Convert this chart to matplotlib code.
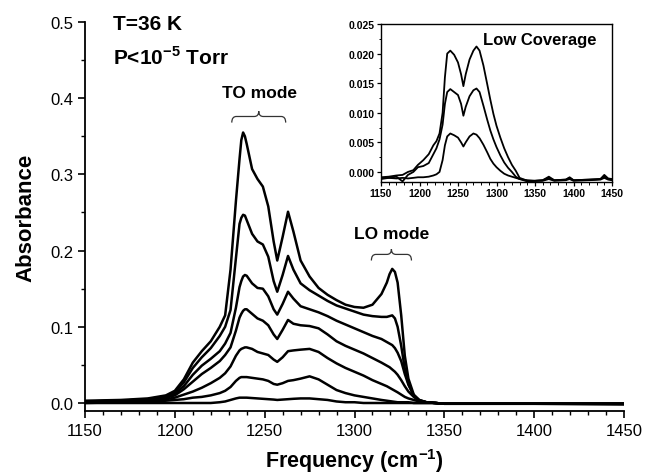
import numpy as np
import matplotlib
matplotlib.use("Agg")
import matplotlib.pyplot as plt
from matplotlib.path import Path
from matplotlib.patches import PathPatch
from matplotlib.ticker import MultipleLocator

plt.rcParams["font.family"] = ["Liberation Sans", "DejaVu Sans"]
plt.rcParams["mathtext.fontset"] = "custom"
plt.rcParams["mathtext.rm"] = "Liberation Sans"
plt.rcParams["mathtext.bf"] = "Liberation Sans:bold"

# ---- main spectra (absorbance vs wavenumber), increasing coverage ----
freq = [1150, 1170, 1185, 1195, 1200, 1205, 1210, 1215, 1220, 1225, 1228, 1231, 1234,
        1236, 1237, 1238, 1239, 1240, 1243, 1246, 1249, 1252, 1255, 1257, 1260, 1263, 1266, 1270,
        1275, 1280, 1285, 1290, 1295, 1300, 1305, 1310, 1315, 1318, 1319.5, 1321, 1322.5, 1324, 1326,
        1328, 1330, 1333, 1336, 1340, 1345, 1350, 1400, 1450]

abs_1 = [0.000, 0.000, 0.000, 0.000, 0.000, 0.000, 0.000, 0.000, 0.000, 0.001, 0.002, 0.004, 0.006,
         0.007, 0.007, 0.007, 0.007, 0.007, 0.0065, 0.006, 0.0055, 0.005, 0.0045, 0.004, 0.0045, 0.005, 0.0055, 0.006,
         0.006, 0.005, 0.004, 0.002, 0.001, 0.001, 0.000, 0.000, 0.000, 0.000, 0.000, 0.000, 0.000, 0.000, 0.000,
         0.000, 0.000, 0.000, 0.000, 0.000, 0.000, -0.001, -0.001, -0.001]
abs_2 = [0.000, 0.001, 0.002, 0.003, 0.004, 0.005, 0.007, 0.008, 0.010, 0.013, 0.016, 0.021, 0.029,
         0.033, 0.034, 0.034, 0.034, 0.034, 0.033, 0.032, 0.031, 0.029, 0.025, 0.024, 0.026, 0.029, 0.030, 0.032,
         0.035, 0.031, 0.024, 0.017, 0.013, 0.010, 0.008, 0.006, 0.004, 0.003, 0.0025, 0.002, 0.0015, 0.001, 0.001,
         0.001, 0.001, 0.000, 0.000, 0.000, 0.000, -0.001, -0.001, -0.001]
abs_3 = [0.001, 0.002, 0.003, 0.005, 0.007, 0.011, 0.015, 0.020, 0.026, 0.033, 0.039, 0.048, 0.062,
         0.069, 0.071, 0.072, 0.073, 0.073, 0.071, 0.067, 0.065, 0.063, 0.057, 0.054, 0.060, 0.068, 0.069, 0.070,
         0.071, 0.067, 0.059, 0.052, 0.046, 0.041, 0.036, 0.030, 0.025, 0.022, 0.020, 0.018, 0.016, 0.014, 0.011,
         0.008, 0.006, 0.004, 0.002, 0.001, 0.000, -0.001, -0.001, -0.001]
abs_4 = [0.001, 0.002, 0.004, 0.007, 0.010, 0.018, 0.028, 0.038, 0.046, 0.055, 0.063, 0.073, 0.095,
         0.112, 0.117, 0.121, 0.123, 0.123, 0.117, 0.111, 0.108, 0.102, 0.090, 0.084, 0.096, 0.109, 0.104, 0.102,
         0.101, 0.098, 0.090, 0.081, 0.075, 0.070, 0.065, 0.059, 0.053, 0.049, 0.047, 0.044, 0.041, 0.037, 0.030,
         0.022, 0.015, 0.008, 0.003, 0.001, 0.000, -0.001, -0.001, -0.001]
abs_5 = [0.002, 0.003, 0.005, 0.008, 0.012, 0.022, 0.037, 0.049, 0.058, 0.068, 0.078, 0.092, 0.125,
         0.152, 0.160, 0.166, 0.168, 0.167, 0.157, 0.151, 0.150, 0.140, 0.123, 0.116, 0.130, 0.146, 0.137, 0.127,
         0.123, 0.119, 0.114, 0.108, 0.103, 0.098, 0.093, 0.088, 0.084, 0.080, 0.078, 0.076, 0.072, 0.066, 0.055,
         0.038, 0.024, 0.010, 0.004, 0.001, 0.000, -0.001, -0.001, -0.001]
abs_6 = [0.002, 0.003, 0.005, 0.009, 0.014, 0.027, 0.046, 0.060, 0.072, 0.088, 0.100, 0.122, 0.190,
         0.235, 0.243, 0.247, 0.246, 0.240, 0.222, 0.212, 0.208, 0.192, 0.160, 0.146, 0.168, 0.193, 0.175, 0.157,
         0.148, 0.141, 0.134, 0.128, 0.124, 0.120, 0.116, 0.114, 0.113, 0.113, 0.114, 0.115, 0.111, 0.100, 0.075,
         0.045, 0.025, 0.009, 0.003, 0.001, 0.000, -0.001, -0.001, -0.001]
abs_7 = [0.003, 0.004, 0.006, 0.010, 0.016, 0.031, 0.053, 0.068, 0.081, 0.100, 0.115, 0.175, 0.265,
         0.320, 0.345, 0.355, 0.350, 0.340, 0.307, 0.294, 0.284, 0.258, 0.212, 0.187, 0.218, 0.251, 0.225, 0.187,
         0.166, 0.151, 0.142, 0.135, 0.129, 0.126, 0.125, 0.129, 0.143, 0.158, 0.169, 0.176, 0.172, 0.158, 0.115,
         0.062, 0.032, 0.011, 0.004, 0.001, 0.000, -0.001, -0.001, -0.002]
spectra = [abs_1, abs_2, abs_3, abs_4, abs_5, abs_6, abs_7]

# ---- inset: low coverage spectra ----
freq_low = [1150, 1160, 1170, 1178, 1185, 1192, 1198, 1205, 1212, 1218, 1222, 1226, 1230, 1233,
            1236, 1240, 1245, 1250, 1254, 1257, 1260, 1265, 1270, 1274, 1278, 1283, 1288, 1292,
            1296, 1300, 1305, 1310, 1315, 1320, 1325, 1330, 1340, 1350, 1360, 1368, 1375, 1390,
            1395, 1400, 1420, 1435, 1440, 1445, 1450]
low_1 = [-0.0010, -0.0010, -0.0011, -0.0010, -0.0011, -0.0010, -0.0009, -0.0009, -0.0008, -0.0006,
         -0.0004, 0.0000, 0.0020, 0.0045, 0.0060, 0.0065, 0.0062, 0.0058, 0.0050, 0.0043, 0.0050,
         0.0060, 0.0065, 0.0063, 0.0057, 0.0046, 0.0033, 0.0022, 0.0014, 0.0008, 0.0002, -0.0003,
         -0.0006, -0.0008, -0.0010, -0.0012, -0.0014, -0.0015, -0.0015, -0.0012, -0.0015, -0.0014,
         -0.0012, -0.0015, -0.0014, -0.0013, -0.0010, -0.0013, -0.0014]
low_2 = [-0.0012, -0.0010, -0.0008, -0.0016, -0.0005, 0.0000, 0.0008, 0.0010, 0.0015, 0.0030,
         0.0040, 0.0055, 0.0080, 0.0115, 0.0135, 0.0140, 0.0135, 0.0130, 0.0115, 0.0095, 0.0110,
         0.0128, 0.0138, 0.0141, 0.0135, 0.0112, 0.0088, 0.0070, 0.0055, 0.0042, 0.0028, 0.0016,
         0.0007, 0.0000, -0.0008, -0.0012, -0.0016, -0.0015, -0.0014, -0.0008, -0.0014, -0.0013,
         -0.0009, -0.0014, -0.0013, -0.0012, -0.0005, -0.0011, -0.0012]
low_3 = [-0.0009, -0.0008, -0.0006, -0.0005, 0.0000, 0.0003, 0.0012, 0.0020, 0.0030, 0.0045,
         0.0052, 0.0065, 0.0100, 0.0160, 0.0200, 0.0205, 0.0198, 0.0185, 0.0165, 0.0145, 0.0165,
         0.0190, 0.0205, 0.0212, 0.0205, 0.0180, 0.0148, 0.0122, 0.0098, 0.0078, 0.0058, 0.0040,
         0.0025, 0.0012, 0.0002, -0.0010, -0.0015, -0.0015, -0.0014, -0.0010, -0.0014, -0.0013,
         -0.0010, -0.0014, -0.0013, -0.0012, -0.0008, -0.0012, -0.0013]
spectra_low = [low_1, low_2, low_3]


def curly_brace(ax, x0, x1, y, h_end, h_tip, r):
    # horizontal brace with the point facing up
    xm = 0.5 * (x0 + x1)
    verts = [(x0, y - h_end), (x0, y), (x0 + r, y),
             (xm - r, y), (xm, y), (xm, y + h_tip),
             (xm, y), (xm + r, y),
             (x1 - r, y), (x1, y), (x1, y - h_end)]
    codes = [Path.MOVETO, Path.CURVE3, Path.CURVE3,
             Path.LINETO, Path.CURVE3, Path.CURVE3,
             Path.CURVE3, Path.CURVE3,
             Path.LINETO, Path.CURVE3, Path.CURVE3]
    ax.add_patch(PathPatch(Path(verts, codes), fc="none", ec="#333333", lw=0.9))


fig = plt.figure(figsize=(6.45, 4.77), dpi=100)
ax = fig.add_axes([85 / 645, 65 / 477, 539 / 645, 389 / 477])

for s in spectra:
    ax.plot(freq, s, color="black", lw=1.8, solid_joinstyle="round")

ax.set_xlim(1150, 1450)
ax.set_ylim(-0.0105, 0.5)
ax.xaxis.set_major_locator(MultipleLocator(50))
ax.xaxis.set_minor_locator(MultipleLocator(10))
ax.set_yticks([0.0, 0.1, 0.2, 0.3, 0.4, 0.5])
ax.set_yticklabels(["0.0", "0.1", "0.2", "0.3", "0.4", "0.5"])
ax.yaxis.set_minor_locator(MultipleLocator(0.05))
ax.tick_params(which="major", direction="out", length=5, width=1.2, labelsize=12)
ax.tick_params(which="minor", direction="out", length=3, width=1.0)
for side in ["top", "right"]:
    ax.spines[side].set_visible(False)
for side in ["left", "bottom"]:
    ax.spines[side].set_linewidth(1.3)

ax.set_xlabel(r"Frequency (cm$^{\mathbf{-1}}$)", fontsize=15.5, fontweight="bold", labelpad=6)
ax.set_ylabel("Absorbance", fontsize=16, fontweight="bold", labelpad=10)

ax.text(1165.6, 0.498, "T=36 K", fontsize=15, fontweight="bold", va="center", ha="left")
ax.text(1165.6, 0.455, r"P<10$^{\mathbf{-5}}$ Torr", fontsize=15, fontweight="bold",
        va="center", ha="left")

ax.text(1247, 0.407, "TO mode", fontsize=12.5, fontweight="bold", ha="center", va="center")
curly_brace(ax, 1231.7, 1261.7, 0.376, 0.008, 0.007, 2.5)
ax.text(1320.6, 0.222, "LO mode", fontsize=12.5, fontweight="bold", ha="center", va="center")
curly_brace(ax, 1309.4, 1331.7, 0.195, 0.008, 0.007, 2.5)

# inset with the low coverage spectra
ins = fig.add_axes([381 / 645, (477 - 183) / 477, 231 / 645, 158 / 477])
for s in spectra_low:
    ins.plot(freq_low, s, color="black", lw=1.3)
ins.set_xlim(1150, 1450)
ins.set_ylim(-0.0017, 0.025)
ins.xaxis.set_major_locator(MultipleLocator(50))
ins.xaxis.set_minor_locator(MultipleLocator(10))
ins.set_yticks([0.0, 0.005, 0.010, 0.015, 0.020, 0.025])
ins.set_yticklabels(["0.000", "0.005", "0.010", "0.015", "0.020", "0.025"])
ins.yaxis.set_minor_locator(MultipleLocator(0.0025))
ins.tick_params(which="major", direction="out", length=3, width=0.9, labelsize=7.5, pad=1.5)
ins.tick_params(which="minor", direction="out", length=1.8, width=0.7)
for lbl in ins.get_xticklabels() + ins.get_yticklabels():
    lbl.set_fontweight("bold")
for sp in ins.spines.values():
    sp.set_linewidth(1.0)
ins.text(0.688, 0.905, "Low Coverage", transform=ins.transAxes, fontsize=12,
         fontweight="bold", ha="center", va="center")

fig.savefig("out.png", dpi=100)
